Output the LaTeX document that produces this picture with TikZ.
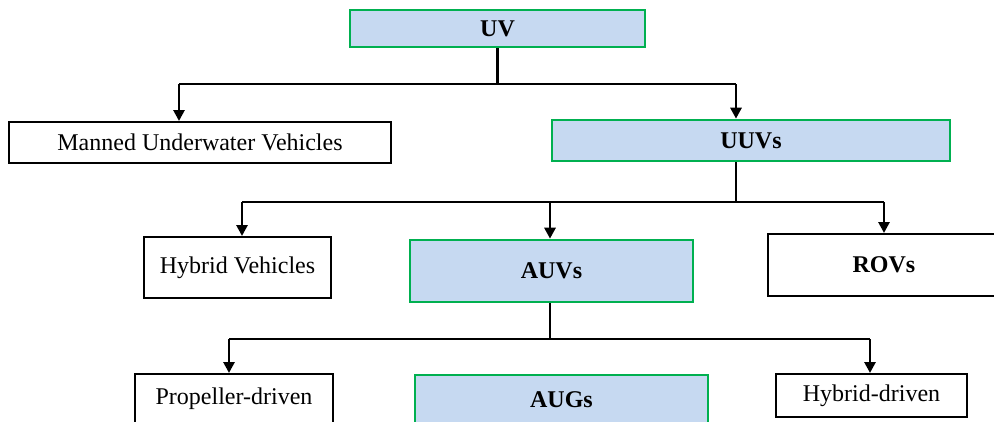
\documentclass[tikz,border=0pt]{standalone}
\usepackage{fontspec}
\setmainfont{Liberation Serif}
\usetikzlibrary{arrows.meta}
\definecolor{uvgreen}{RGB}{0,176,80}
\definecolor{uvblue}{RGB}{198,217,241}
\begin{document}
\begin{tikzpicture}[x=1pt, y=-1pt,
    box/.style={draw=black, line width=2pt, fill=white, inner sep=0pt,
        font=\fontsize{24}{28}\selectfont},
    boldbox/.style={box, font=\fontsize{24}{28}\selectfont\bfseries},
    keybox/.style={boldbox, draw=uvgreen, line width=2.6pt, fill=uvblue},
    link/.style={line width=2.8pt},
    linkarrow/.style={link, -{Triangle[width=11pt,length=11pt]}}]
    \useasboundingbox (0,0) rectangle (994,421);
    \clip (0,0) rectangle (994,421);

    % top level
    \node[keybox, minimum width=295pt, minimum height=37pt] at (497.5,28.5) (uv) {UV};
    \node[box, minimum width=382pt, minimum height=41pt] at (200,142.5) (manned) {Manned Underwater Vehicles};
    \node[keybox, minimum width=398pt, minimum height=41pt] at (751,140.5) (uuvs) {UUVs};

    % second level
    \node[box, minimum width=187pt, minimum height=61pt] at (237.5,267.5) (hybridv) {Hybrid Vehicles};
    \node[keybox, minimum width=283pt, minimum height=62pt] at (551.5,271) (auvs) {AUVs};
    \node[boldbox, minimum width=232pt, minimum height=62pt] at (884,265) (rovs) {ROVs};

    % third level
    \node[box, minimum width=198pt, minimum height=50pt] at (234,399) (prop) {Propeller-driven};
    \node[keybox, minimum width=293pt, minimum height=50pt] at (561.5,400) (augs) {AUGs};
    \node[box, minimum width=191pt, minimum height=43pt] at (871.5,395.5) (hybridd) {Hybrid-driven};

    % connectors
    \coordinate (j1) at (497.5,84);
    \coordinate (j1l) at (179,84);
    \coordinate (j1r) at (736,84);
    \draw[link] (j1 |- uv.south) -- (j1);
    \draw[link] (j1l) -- (j1r);
    \draw[linkarrow] (j1l) -- (j1l |- manned.north);
    \draw[linkarrow] (j1r) -- (j1r |- uuvs.north);

    \coordinate (j2) at (736,202);
    \coordinate (j2l) at (242,202);
    \coordinate (j2m) at (550,202);
    \coordinate (j2r) at (884,202);
    \draw[link] (j2 |- uuvs.south) -- (j2);
    \draw[link] (j2l) -- (j2r);
    \draw[linkarrow] (j2l) -- (j2l |- hybridv.north);
    \draw[linkarrow] (j2m) -- (j2m |- auvs.north);
    \draw[linkarrow] (j2r) -- (j2r |- rovs.north);

    \coordinate (j3) at (550,339);
    \coordinate (j3l) at (229,339);
    \coordinate (j3r) at (870,339);
    \draw[link] (j3 |- auvs.south) -- (j3);
    \draw[link] (j3l) -- (j3r);
    \draw[linkarrow] (j3l) -- (j3l |- prop.north);
    \draw[linkarrow] (j3r) -- (j3r |- hybridd.north);
\end{tikzpicture}
\end{document}
